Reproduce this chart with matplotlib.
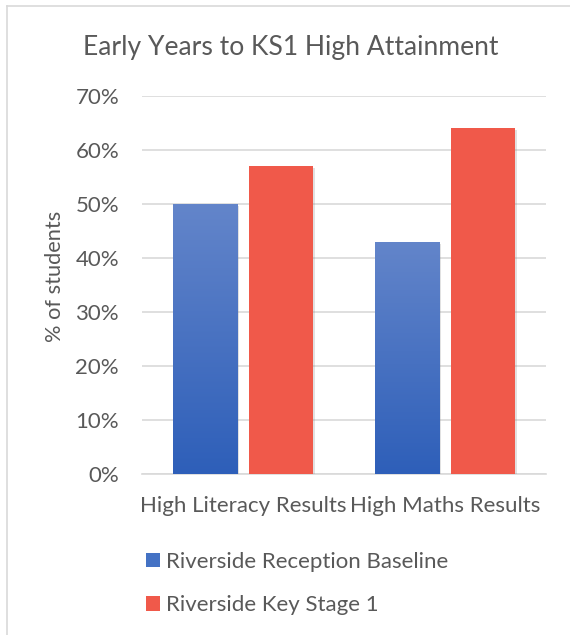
import numpy as np
import matplotlib
matplotlib.use("Agg")
import matplotlib.pyplot as plt
from matplotlib.colors import LinearSegmentedColormap
from matplotlib.lines import Line2D
from matplotlib.patches import Patch
import matplotlib.patheffects as pe
from matplotlib.ticker import FuncFormatter

categories = ["High Literacy Results", "High Maths Results"]
series_names = ["Riverside Reception Baseline", "Riverside Key Stage 1"]
baseline = [0.50, 0.43]
ks1 = [0.57, 0.64]
yticks = [0, 0.1, 0.2, 0.3, 0.4, 0.5, 0.6, 0.7]

plt.rcParams['font.family'] = ['Lato', 'DejaVu Sans']
txt = '#595959'
grid_c = '#D9D9D9'
red = '#F0594A'
blue_mid = '#4472C4'
blue_cmap = LinearSegmentedColormap.from_list('b', ['#2E5FB9', '#6385CA'])

fig = plt.figure(figsize=(5.7, 6.35), dpi=100)
ax = fig.add_axes([142/570, 1-474/635, 404/570, 378/635])

x = np.arange(len(categories))
w = 0.317
off = 0.19
shadow = [pe.SimplePatchShadow(offset=(1.5, -1.5), alpha=0.25, shadow_rgbFace='#888888'), pe.Normal()]
b1 = ax.bar(x - off, baseline, w, color=blue_mid, zorder=3, path_effects=shadow)
b2 = ax.bar(x + off, ks1, w, color=red, zorder=3, path_effects=shadow)

grad = np.linspace(0, 1, 256).reshape(-1, 1)
for bar in b1:
    x0 = bar.get_x(); h = bar.get_height()
    im = ax.imshow(grad, extent=[x0, x0 + bar.get_width(), 0, h], aspect='auto',
                   cmap=blue_cmap, origin='lower', zorder=3.5)
    im.set_clip_path(bar)

ax.set_xlim(-0.5, 1.5)
ax.set_ylim(0, 0.7)
ax.set_yticks(yticks)
ax.yaxis.set_major_formatter(FuncFormatter(lambda v, p: f"{v*100:.0f}%"))
ax.set_xticks(x)
ax.set_xticklabels(categories)
ax.tick_params(length=0, labelsize=16, colors=txt)
ax.tick_params(axis='y', pad=16.5)
ax.tick_params(axis='x', pad=16)
ax.grid(axis='y', color=grid_c, linewidth=1.2, zorder=0)
ax.set_axisbelow(True)
for s in ['top', 'right', 'left']:
    ax.spines[s].set_visible(False)
ax.spines['bottom'].set_color(grid_c)
ax.spines['bottom'].set_linewidth(1.2)

fig.text(55/570, 1-276/635, '% of students', rotation=90, ha='center', va='center',
         fontsize=15.7, color=txt)
fig.text(291/570, 1-55/635, 'Early Years to KS1 High Attainment', ha='center', va='baseline',
         fontsize=19.1, color=txt)

handles = [Patch(facecolor=blue_mid, edgecolor='none'), Patch(facecolor=red, edgecolor='none')]
leg = fig.legend(handles, series_names, loc='upper left', bbox_to_anchor=(146/570, 1-552/635),
                 frameon=False, fontsize=16, handlelength=0.63, handleheight=0.63,
                 handletextpad=0.27, labelspacing=1.05, borderpad=0, borderaxespad=0,
                 labelcolor=txt)

fig.add_artist(Line2D([7/570, 1], [1-6/635, 1-6/635], color=grid_c, linewidth=1.2))
fig.add_artist(Line2D([7/570, 7/570], [0, 1-6/635], color=grid_c, linewidth=1.2))

fig.savefig('out.png', dpi=100, facecolor='white')
